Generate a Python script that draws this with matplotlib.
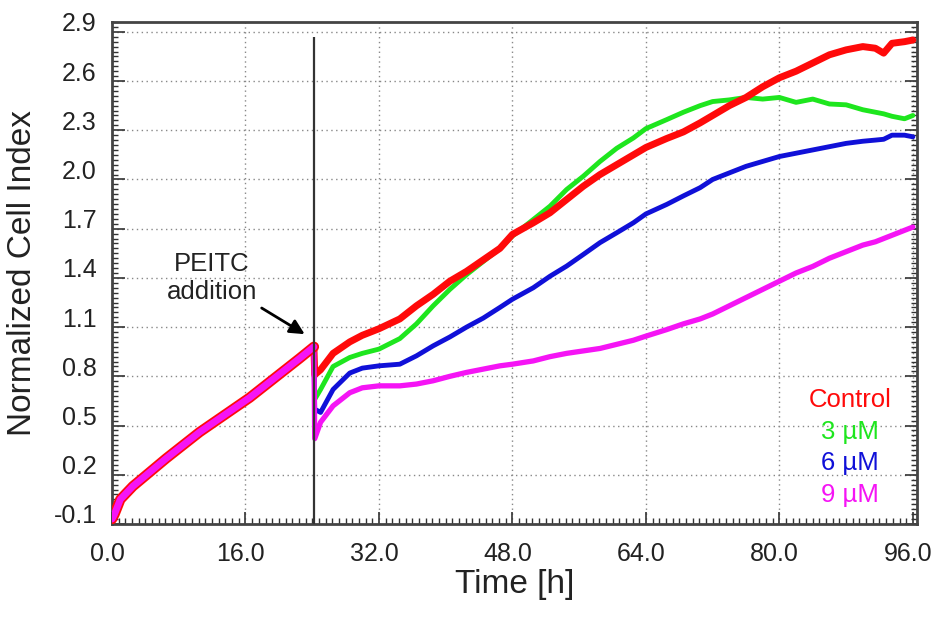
import numpy as np
import matplotlib
matplotlib.use("Agg")
import matplotlib.pyplot as plt
from matplotlib.ticker import AutoMinorLocator
from matplotlib.transforms import ScaledTranslation

plt.rcParams['font.family'] = ['Liberation Sans', 'DejaVu Sans']

# time of PEITC addition (h)
addition_time = 24.2

# common growth curve before the addition
t_pre = [0.0, 0.3, 1.0, 2.5, 4.5, 6.5, 8.5, 10.5, 12.5, 14.5, 16.5, 18.5, 20.5, 22.5, 24.2]
ci_pre = [-0.07, -0.04, 0.05, 0.13, 0.215, 0.30, 0.38, 0.46, 0.53, 0.60, 0.67, 0.75, 0.83, 0.91, 0.98]

# after the addition
t_post = [24.3, 25.0, 26.5, 28.5, 30.0, 32.0, 34.5, 36.5, 38.5, 40.5, 42.5, 44.5, 46.5, 48.0,
          50.5, 52.5, 54.5, 56.5, 58.5, 60.5, 62.5, 64.0, 66.5, 68.5, 70.5, 72.0, 74.0, 76.0,
          78.0, 80.0, 82.0, 84.0, 86.0, 88.0, 90.0, 91.5, 92.5, 93.5, 95.0, 96.0]
control = [0.81, 0.84, 0.94, 1.01, 1.05, 1.09, 1.15, 1.23, 1.30, 1.38, 1.44, 1.51, 1.58, 1.665,
           1.736, 1.797, 1.878, 1.959, 2.03, 2.09, 2.15, 2.195, 2.25, 2.29, 2.345, 2.39, 2.45, 2.50,
           2.565, 2.62, 2.66, 2.71, 2.76, 2.79, 2.81, 2.80, 2.77, 2.83, 2.84, 2.85]
um3 = [0.66, 0.72, 0.86, 0.915, 0.94, 0.966, 1.03, 1.12, 1.23, 1.33, 1.42, 1.50, 1.58, 1.655,
       1.756, 1.837, 1.939, 2.02, 2.11, 2.19, 2.253, 2.31, 2.365, 2.41, 2.45, 2.475, 2.485, 2.50,
       2.49, 2.50, 2.47, 2.49, 2.46, 2.455, 2.425, 2.41, 2.40, 2.385, 2.37, 2.39]
um6 = [0.60, 0.58, 0.72, 0.82, 0.85, 0.864, 0.874, 0.925, 0.986, 1.04, 1.10, 1.155, 1.22, 1.27,
       1.34, 1.41, 1.472, 1.543, 1.615, 1.675, 1.736, 1.79, 1.848, 1.90, 1.95, 2.0, 2.04, 2.08,
       2.11, 2.14, 2.16, 2.18, 2.20, 2.22, 2.233, 2.24, 2.245, 2.27, 2.27, 2.26]
um9 = [0.42, 0.52, 0.62, 0.70, 0.73, 0.742, 0.742, 0.753, 0.773, 0.80, 0.824, 0.844, 0.864, 0.874,
       0.894, 0.92, 0.94, 0.955, 0.97, 0.995, 1.02, 1.045, 1.085, 1.12, 1.15, 1.18, 1.23, 1.28,
       1.33, 1.38, 1.43, 1.47, 1.52, 1.56, 1.60, 1.62, 1.64, 1.66, 1.69, 1.71]

labels = ['Control', '3 µM', '6 µM', '9 µM']
colors = ['#ff0a0a', '#1ee61e', '#1010d8', '#f514f5']

x_ticks = [0, 16, 32, 48, 64, 80, 96]
y_ticks = [-0.1, 0.2, 0.5, 0.8, 1.1, 1.4, 1.7, 2.0, 2.3, 2.6, 2.9]

fig = plt.figure(figsize=(9.42, 6.19), dpi=100)
ax = fig.add_axes([0.1189, 0.1535, 0.8546, 0.811])

series = {'Control': control, '3 µM': um3, '6 µM': um6, '9 µM': um9}
widths = {'Control': 5.0, '3 µM': 3.5, '6 µM': 3.5, '9 µM': 3.8}
pre_widths = {'Control': 7.5, '9 µM': 5.0}

# after addition: green, blue, red, magenta (each starts at last pre point)
for name in ['3 µM', '6 µM', 'Control', '9 µM']:
    c = colors[labels.index(name)]
    ax.plot(t_pre[-1:] + t_post, ci_pre[-1:] + series[name], color=c, lw=widths[name],
            solid_joinstyle='round', solid_capstyle='round', zorder=3)
# before addition the curves overlap: red underneath, magenta on top
for name in ['Control', '9 µM']:
    c = colors[labels.index(name)]
    ax.plot(t_pre, ci_pre, color=c, lw=pre_widths[name],
            solid_joinstyle='round', solid_capstyle='round', zorder=3)

ax.vlines(addition_time, -0.1, 2.87, color='#333333', lw=1.6, zorder=4)

ax.set_xlim(0, 96.5)
ax.set_ylim(-0.1, 2.96)
ax.set_xticks(x_ticks)
ax.set_xticklabels(['%.1f' % v for v in x_ticks])
ax.set_yticks(y_ticks)
ax.set_yticklabels(['%.1f' % v for v in y_ticks])
ax.xaxis.set_minor_locator(AutoMinorLocator(20))
ax.yaxis.set_minor_locator(AutoMinorLocator(10))
ax.tick_params(which='both', direction='in', right=True, top=False, color='#333333', width=1.2)
ax.tick_params(which='major', length=9, labelsize=18, labelcolor='#222222')
ax.tick_params(which='minor', length=4.5, width=1.0)
ax.tick_params(axis='x', pad=13)
ax.tick_params(axis='y', pad=11)

ax.grid(True, which='major', color='#888888', linestyle=(0, (1, 2.5)), lw=1.0, zorder=1)
for s in ax.spines.values():
    s.set_color('#444444')
    s.set_linewidth(2.0)

# shift tick labels like in the original software
dy = ScaledTranslation(0, 10 / 100, fig.dpi_scale_trans)
for lab in ax.get_yticklabels():
    lab.set_transform(lab.get_transform() + dy)
dx = ScaledTranslation(-5 / 100, 0, fig.dpi_scale_trans)
for lab in ax.get_xticklabels():
    lab.set_transform(lab.get_transform() + dx)

ax.set_xlabel('Time [h]', fontsize=24, color='#222222')
ax.set_ylabel('Normalized Cell Index', fontsize=24, color='#222222')
ax.xaxis.set_label_coords(0.5, -0.09)
ax.yaxis.set_label_coords(-0.092, 0.5)

ax.annotate('PEITC\naddition', xy=(23.1, 1.057), xytext=(12.0, 1.40),
            ha='center', va='center', fontsize=18.5, color='#222222', linespacing=1.2,
            arrowprops=dict(arrowstyle='-|>', color='black', lw=2.0, mutation_scale=22,
                            shrinkA=2, shrinkB=0))

legend_y = [0.247, 0.184, 0.121, 0.058]
for name, c, yy in zip(labels, colors, legend_y):
    ax.text(0.917, yy, name, transform=ax.transAxes, ha='center', va='center',
            fontsize=18.5, color=c)

fig.savefig('out.png', dpi=100)
